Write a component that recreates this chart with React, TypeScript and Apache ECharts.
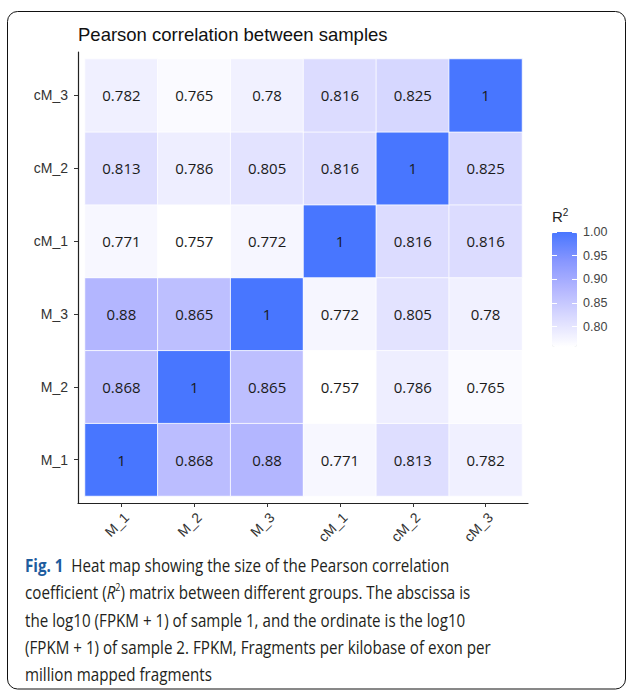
import React, { useEffect, useRef } from "react";
import * as echarts from "echarts";

// ---- data ----
const COLS = ["M_1", "M_2", "M_3", "cM_1", "cM_2", "cM_3"];
const ROWS = ["M_1", "M_2", "M_3", "cM_1", "cM_2", "cM_3"]; // bottom -> top
const ROW_M1 = [1, 0.868, 0.88, 0.771, 0.813, 0.782];
const ROW_M2 = [0.868, 1, 0.865, 0.757, 0.786, 0.765];
const ROW_M3 = [0.88, 0.865, 1, 0.772, 0.805, 0.78];
const ROW_CM1 = [0.771, 0.757, 0.772, 1, 0.816, 0.816];
const ROW_CM2 = [0.813, 0.786, 0.805, 0.816, 1, 0.825];
const ROW_CM3 = [0.782, 0.765, 0.78, 0.816, 0.825, 1];
const MATRIX = [ROW_M1, ROW_M2, ROW_M3, ROW_CM1, ROW_CM2, ROW_CM3];
const SCALE_MIN = 0.757;
const SCALE_MAX = 1;
const LEGEND_TICKS = [0.8, 0.85, 0.9, 0.95, 1.0];
const COLOR_STOPS = ["#ffffff", "#dbdbff", "#b4b7ff", "#8796ff", "#4876ff"];

const TITLE = "Pearson correlation between samples";
const CAPTION_LINES = [
  "{fig|Fig. 1}  Heat map showing the size of the Pearson correlation",
  "coefficient ({i|R}{sup|2}) matrix between different groups. The abscissa is",
  "the log10 (FPKM + 1) of sample 1, and the ordinate is the log10",
  "(FPKM + 1) of sample 2. FPKM, Fragments per kilobase of exon per",
  "million mapped fragments",
];

const SANS = "'Liberation Sans', Arial, Helvetica, sans-serif";
const CAP_FONT = "'Open Sans', 'Noto Sans', sans-serif";

export default function App() {
  const ref = useRef<HTMLDivElement>(null);
  useEffect(() => {
    document.body.style.margin = "0";
    if (!ref.current) return;
    const chart = echarts.init(ref.current, undefined, { renderer: "svg" });

    const data: number[][] = [];
    MATRIX.forEach((row, yi) => row.forEach((v, xi) => data.push([xi, yi, v])));

    const capFs = 18.5;
    const capY0 = 565;
    const capStep = 27.3;
    const capScale = 0.82;

    const option: any = {
      animation: false,
      backgroundColor: "#ffffff",
      title: {
        text: TITLE,
        left: 78,
        top: 25,
        padding: 0,
        textStyle: { fontFamily: SANS, fontSize: 18.5, fontWeight: "normal", color: "#111" },
      },
      grid: [
        { left: 85, top: 59, width: 437, height: 437, containLabel: false },
        { left: 78, top: 52, width: 450, height: 451, containLabel: false },
        { left: 552, top: 232, width: 25, height: 115, containLabel: false },
      ],
      xAxis: [
        {
          type: "category",
          gridIndex: 0,
          data: COLS,
          position: "bottom",
          offset: 7,
          axisLine: { show: false },
          axisTick: { show: true, alignWithLabel: true, length: 4, lineStyle: { color: "#333", width: 1 } },
          axisLabel: {
            rotate: 45,
            margin: 7,
            align: "right",
            verticalAlign: "top",
            fontFamily: SANS,
            fontSize: 14,
            color: "#333",
          },
          splitLine: { show: false },
        },
        {
          type: "value",
          gridIndex: 1,
          min: 0,
          max: 1,
          axisLine: { show: true, onZero: false, lineStyle: { color: "#222", width: 1.2 } },
          axisTick: { show: false },
          axisLabel: { show: false },
          splitLine: { show: false },
        },
        {
          type: "category",
          gridIndex: 2,
          data: ["R2"],
          show: false,
        },
      ],
      yAxis: [
        {
          type: "category",
          gridIndex: 0,
          data: ROWS,
          position: "left",
          offset: 7,
          axisLine: { show: false },
          axisTick: { show: true, alignWithLabel: true, length: 4, lineStyle: { color: "#333", width: 1 } },
          axisLabel: { margin: 10, fontFamily: SANS, fontSize: 14, color: "#333" },
          splitLine: { show: false },
        },
        {
          type: "value",
          gridIndex: 1,
          min: 0,
          max: 1,
          axisLine: { show: true, onZero: false, lineStyle: { color: "#222", width: 1.2 } },
          axisTick: { show: false },
          axisLabel: { show: false },
          splitLine: { show: false },
        },
        {
          type: "value",
          gridIndex: 2,
          min: SCALE_MIN,
          max: SCALE_MAX,
          position: "left",
          z: 10,
          axisLine: { show: false },
          axisTick: { show: true, inside: true, length: 5, customValues: LEGEND_TICKS, lineStyle: { color: "#ffffff", width: 1 } },
          axisLabel: { show: false },
          splitLine: { show: false },
        },
        {
          type: "value",
          gridIndex: 2,
          min: SCALE_MIN,
          max: SCALE_MAX,
          position: "right",
          z: 10,
          axisLine: { show: false },
          axisTick: { show: true, inside: true, length: 5, customValues: LEGEND_TICKS, lineStyle: { color: "#ffffff", width: 1 } },
          axisLabel: {
            show: true,
            customValues: LEGEND_TICKS,
            margin: 6,
            fontFamily: SANS,
            fontSize: 12.5,
            color: "#444",
            formatter: (v: number) => v.toFixed(2),
          },
          splitLine: { show: false },
        },
      ],
      visualMap: {
        type: "continuous",
        seriesIndex: 0,
        dimension: 2,
        min: SCALE_MIN,
        max: SCALE_MAX,
        orient: "vertical",
        left: 552,
        top: 232,
        padding: 0,
        itemWidth: 25,
        itemHeight: 115,
        calculable: false,
        hoverLink: false,
        text: null,
        inRange: { color: COLOR_STOPS },
      },
      series: [
        {
          type: "heatmap",
          xAxisIndex: 0,
          yAxisIndex: 0,
          data,
          itemStyle: { borderColor: "rgba(255,255,255,0.8)", borderWidth: 1 },
          label: {
            show: true,
            fontFamily: CAP_FONT,
            fontSize: 15,
            color: "#1a1a1a",
            formatter: (p: any) => String(p.value[2]),
          },
          emphasis: { disabled: true },
        },
      ],
      graphic: [
        {
          type: "rect",
          shape: { x: 7.5, y: 11.5, width: 618, height: 677.5, r: 10 },
          style: { fill: "none", stroke: "#111", lineWidth: 1 },
          silent: true,
          z: 0,
        },
        {
          type: "text",
          x: 552,
          y: 216,
          style: {
            text: "R{sup|2}",
            fontFamily: SANS,
            fontSize: 15,
            fill: "#222",
            lineHeight: 18,
            textVerticalAlign: "middle",
            rich: {
              sup: { fontFamily: SANS, fontSize: 10, lineHeight: 10, verticalAlign: "top", fill: "#222" },
            },
          },
        },
        {
          type: "group",
          x: 25,
          y: 0,
          scaleX: capScale,
          children: CAPTION_LINES.map((line, i) => ({
            type: "text",
            x: 0,
            y: capY0 + i * capStep,
            style: {
              text: line,
              fontFamily: CAP_FONT,
              fontSize: capFs,
              fill: "#231f20",
              lineHeight: 22,
              textVerticalAlign: "middle",
              rich: {
                fig: { fontFamily: CAP_FONT, fontSize: capFs, fontWeight: "bold", fill: "#1d5c9e", lineHeight: 22 },
                i: { fontFamily: CAP_FONT, fontSize: capFs, fontStyle: "italic", fill: "#231f20", lineHeight: 22 },
                sup: { fontFamily: CAP_FONT, fontSize: 11, fill: "#231f20", lineHeight: 11, verticalAlign: "top" },
              },
            },
          })),
        },
      ],
    };

    chart.setOption(option);
    return () => chart.dispose();
  }, []);

  return <div ref={ref} style={{ width: 627, height: 691 }} />;
}
